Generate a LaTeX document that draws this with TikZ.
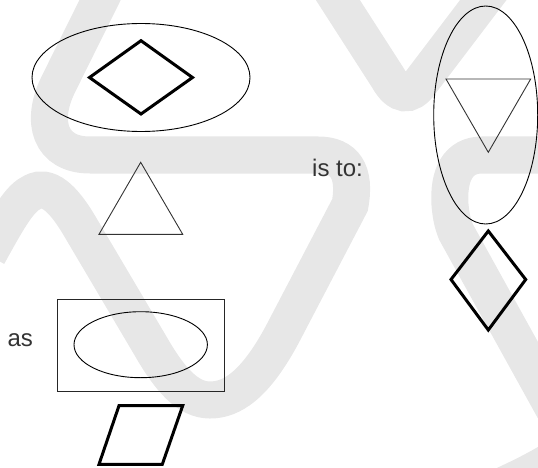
\documentclass[tikz,border=0pt]{standalone}
\usepackage{fontspec}
\setmainfont{Liberation Sans}
\definecolor{bandgray}{HTML}{E7E7E7}
\definecolor{txtgray}{HTML}{333333}
\begin{document}
\begin{tikzpicture}[x=1pt,y=-1pt,
  band/.style={draw=bandgray,line width=37pt},
  thinline/.style={draw=black,line width=0.9pt},
  thickline/.style={draw=black,line width=3pt,line join=miter},
  lbl/.style={text=txtgray,font=\fontsize{24}{28}\selectfont,inner sep=0pt,anchor=base west}]
\useasboundingbox (0,0) rectangle (538,468);
% background ribbon
\begin{scope}
\clip (0,0) rectangle (538,468);
\draw[band] (110,-20) -- (58,85) .. controls (40,122) and (50,155) .. (90,155)
  -- (318,155) .. controls (345,155) and (356,172) .. (350,205)
  -- (282,335) .. controls (255,385) and (232,400) .. (210,400)
  .. controls (188,400) and (170,380) .. (150,345)
  -- (82,230) .. controls (62,195) and (47,185) .. (33,192)
  .. controls (20,198) and (10,215) .. (-12,255);
\draw[band] (325,-20) -- (388,78) .. controls (398,96) and (410,98) .. (421,82) -- (500,-22);
\draw[band] (560,155) -- (482,155) .. controls (458,155) and (448,175) .. (450,205)
  .. controls (451,215) and (452,222) .. (456,232) -- (560,420);
\draw[band] (620,400) .. controls (580,450) and (540,470) .. (470,500);
\end{scope}
% top-left group
\draw[thinline] (141,77.5) ellipse [x radius=109pt, y radius=54pt];
\draw[thickline] (89.5,77.5) -- (141,40.7) -- (192.5,77.5) -- (141,114) -- cycle;
\draw[thinline,draw=black!80] (99,234.3) -- (140.7,162.3) -- (182.7,234.3) -- cycle;
% bottom-left group
\node[lbl] (as) at (7.3,346.7) {as};
\draw[thinline,draw=black!85] (57.3,299.3) rectangle (224.3,391);
\draw[thinline] (140.7,344.7) ellipse [x radius=66.7pt, y radius=33pt];
\draw[thickline] (119,405.7) -- (182.7,405.7) -- (162.3,464.3) -- (99,464.3) -- cycle;
% middle text
\node[lbl] (isto) at (312,176.5) {is to:};
% right group
\draw[thinline] (485.7,115) ellipse [x radius=52pt, y radius=109pt];
\draw[thinline,draw=black!80] (446,79) -- (530.7,79) -- (488.3,152.3) -- cycle;
\draw[thickline] (488.3,231) -- (525.7,279.5) -- (488.3,330) -- (451,279.5) -- cycle;
\end{tikzpicture}
\end{document}
